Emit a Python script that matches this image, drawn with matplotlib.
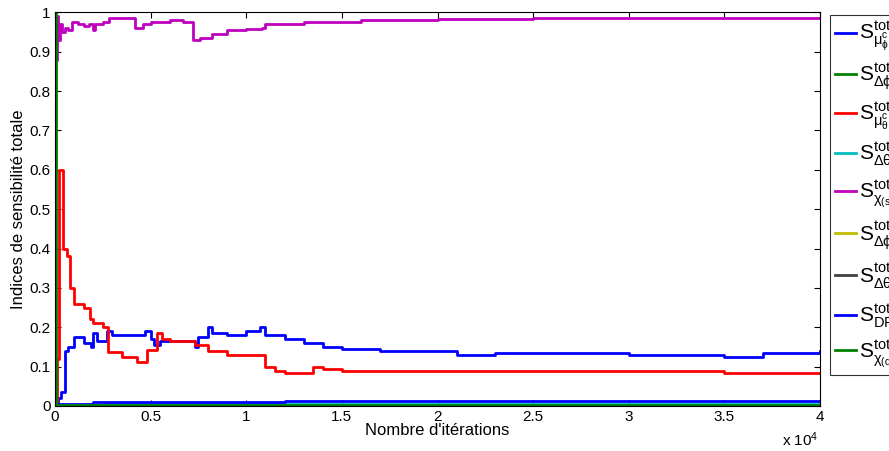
import matplotlib
matplotlib.use("Agg")
import matplotlib.pyplot as plt

plt.rcParams['font.family'] = ['Liberation Sans', 'DejaVu Sans']
plt.rcParams['mathtext.fontset'] = 'custom'
plt.rcParams['mathtext.rm'] = 'Liberation Sans'
plt.rcParams['mathtext.it'] = 'Liberation Sans'
plt.rcParams['mathtext.default'] = 'regular'

# breakpoints (iteration, value) of the running estimates, drawn as steps
mu_phi_it = [0, 150, 300, 500, 700, 1000, 1500, 1900, 2000, 2200, 2700, 3000, 4500, 4700,
             5000, 5200, 5500, 7000, 7300, 7500, 8000, 8200, 9000, 10000, 10700, 11000,
             12000, 13000, 14000, 15000, 17000, 21000, 23000, 27000, 30000, 35000, 37000, 40000]
mu_phi_val = [0.0, 0.02, 0.035, 0.14, 0.15, 0.175, 0.16, 0.15, 0.185, 0.165, 0.19, 0.18, 0.18, 0.19,
              0.17, 0.155, 0.165, 0.165, 0.15, 0.175, 0.2, 0.185, 0.18, 0.19, 0.2, 0.18,
              0.17, 0.16, 0.15, 0.145, 0.14, 0.13, 0.135, 0.135, 0.13, 0.125, 0.135, 0.14]

dphi_it = [0, 40000]
dphi_val = [0.003, 0.003]

mu_theta_it = [0, 100, 200, 400, 600, 800, 1000, 1500, 1830, 2000, 2500, 2770, 3500, 4290,
               4800, 5330, 5600, 6000, 7000, 7300, 8000, 9000, 10900, 11000, 11500, 12000,
               13000, 13500, 14000, 15000, 25000, 30000, 35000, 40000]
mu_theta_val = [0.0, 0.12, 0.6, 0.4, 0.38, 0.3, 0.26, 0.25, 0.22, 0.21, 0.2, 0.137, 0.125, 0.112,
                0.142, 0.185, 0.17, 0.165, 0.165, 0.155, 0.14, 0.13, 0.13, 0.1, 0.09, 0.085,
                0.085, 0.1, 0.095, 0.09, 0.09, 0.09, 0.085, 0.085]

dtheta_it = [0, 2500, 40000]
dtheta_val = [0.002, 0.005, 0.005]

chi_s_it = [0, 100, 150, 250, 350, 500, 700, 900, 1200, 1500, 1800, 2000, 2100, 2500, 2800,
            4180, 4600, 5000, 6000, 6700, 7220, 7600, 8200, 9000, 10000, 10800, 11000,
            13000, 16000, 20000, 25000, 40000]
chi_s_val = [0.88, 0.99, 0.93, 0.97, 0.95, 0.96, 0.955, 0.975, 0.97, 0.965, 0.97, 0.955, 0.97, 0.975, 0.985,
             0.96, 0.97, 0.975, 0.98, 0.975, 0.93, 0.935, 0.945, 0.955, 0.958, 0.96, 0.97,
             0.975, 0.98, 0.983, 0.985, 0.985]

dphi_d_it = [0, 40000]
dphi_d_val = [0.001, 0.001]

dtheta_d_it = [0, 40000]
dtheta_d_val = [0.001, 0.001]

dpd_it = [0, 2000, 7000, 12000, 40000]
dpd_val = [0.005, 0.01, 0.011, 0.012, 0.012]

chi_d_it = [0, 60, 40000]
chi_d_val = [1.0, 0.002, 0.002]

labels = [r'$S^{tot}_{\mu^c_\phi}$', r'$S^{tot}_{\Delta\phi_c}$', r'$S^{tot}_{\mu^c_\theta}$',
          r'$S^{tot}_{\Delta\theta_c}$', r'$S^{tot}_{\chi_{(s),c}}$', r'$S^{tot}_{\Delta\phi_c^{(d)}}$',
          r'$S^{tot}_{\Delta\theta_c^{(d)}}$', r'$S^{tot}_{DPDF}$', r'$S^{tot}_{\chi_{(d),c}}$']
colors = [(0, 0, 1), (0, 0.5, 0), (1, 0, 0), (0, 0.75, 0.75), (0.75, 0, 0.75),
          (0.75, 0.75, 0), (0.25, 0.25, 0.25), (0, 0, 1), (0, 0.5, 0)]

series = [(mu_phi_it, mu_phi_val), (dphi_it, dphi_val), (mu_theta_it, mu_theta_val),
          (dtheta_it, dtheta_val), (chi_s_it, chi_s_val), (dphi_d_it, dphi_d_val),
          (dtheta_d_it, dtheta_d_val), (dpd_it, dpd_val), (chi_d_it, chi_d_val)]

fig = plt.figure(figsize=(8.89, 4.51), dpi=100)
ax = fig.add_axes([0.0619, 0.0998, 0.8605, 0.873])

for (it, val), c, lab in zip(series, colors, labels):
    ax.plot(it, val, drawstyle='steps-post', color=c, lw=2, label=lab)

ax.set_xlim(0, 40000)
ax.set_ylim(0, 1)
ax.set_xticks([i * 5000 for i in range(9)])
ax.set_xticklabels(['0', '0.5', '1', '1.5', '2', '2.5', '3', '3.5', '4'])
ax.set_yticks([i / 10 for i in range(11)])
ax.set_yticklabels(['0'] + ['0.%d' % i for i in range(1, 10)] + ['1'])
ax.tick_params(direction='in', top=True, right=True, labelsize=11, length=4, pad=3)
ax.set_xlabel("Nombre d'itérations", fontsize=12, labelpad=-1)
ax.set_ylabel("Indices de sensibilité totale", fontsize=12, labelpad=3)
fig.text(0.88, 0.012, r'x $10^4$', fontsize=11)

leg = ax.legend(loc='upper left', bbox_to_anchor=(830 / 889, 1 - 15 / 451),
                bbox_transform=fig.transFigure, fontsize=15, frameon=True,
                fancybox=False, edgecolor='black', handlelength=1.0,
                labelspacing=0.42, borderaxespad=0, borderpad=0.25,
                handletextpad=0.15)
leg.get_frame().set_linewidth(0.8)

fig.savefig('out.png', dpi=100)
